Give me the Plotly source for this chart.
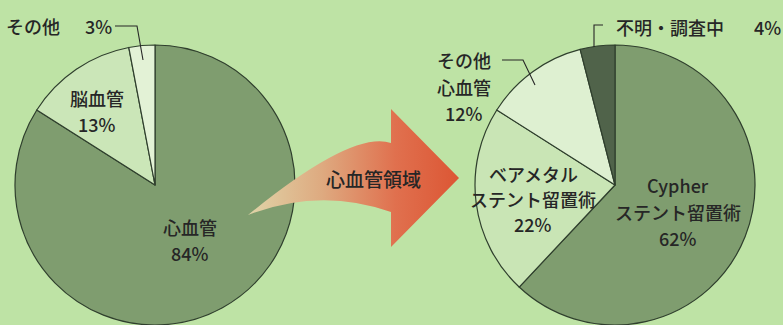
import base64
import plotly.graph_objects as go

# ---------------- data ----------------
left_labels = ["心血管", "脳血管", "その他"]
left_values = [84, 13, 3]
left_colors = ["#7f9d6f", "#cbe6b8", "#e3f2d6"]

right_labels = ["Cypher<br>ステント留置術", "ベアメタル<br>ステント留置術", "その他<br>心血管", "不明・調査中"]
right_values = [62, 22, 12, 4]
right_colors = ["#7f9d6f", "#c9e5b5", "#def0d1", "#50634a"]

arrow_label = "心血管領域"

# ---------------- layout helpers ----------------
W, H = 783, 325
BG = "#bee3a5"
FONT = "Noto Sans CJK JP, Noto Sans, sans-serif"
TXT = "#262626"
EDGE = "#2f3f2d"


def dom(cx, cy, r):
    return dict(x=[(cx - r) / W, (cx + r) / W], y=[1 - (cy + r) / H, 1 - (cy - r) / H])


fig = go.Figure()

fig.add_trace(go.Pie(
    labels=left_labels, values=left_values, sort=False, direction="clockwise", rotation=0,
    marker=dict(colors=left_colors, line=dict(color=EDGE, width=1.2)),
    textinfo="none", hoverinfo="label+percent", domain=dom(155, 185, 140), showlegend=False,
))
fig.add_trace(go.Pie(
    labels=right_labels, values=right_values, sort=False, direction="clockwise", rotation=0,
    marker=dict(colors=right_colors, line=dict(color=EDGE, width=1.2)),
    textinfo="none", hoverinfo="label+percent", domain=dom(615, 185, 140), showlegend=False,
))

# ---------------- arrow (decoration, gradient-filled SVG drawn above the pies) ----------------
arrow_svg = f"""<svg xmlns='http://www.w3.org/2000/svg' width='{W}' height='{H}' viewBox='0 0 {W} {H}'>
<defs><linearGradient id='g' gradientUnits='userSpaceOnUse' x1='248' y1='0' x2='459' y2='0'>
<stop offset='0' stop-color='rgb(224,212,168)'/>
<stop offset='0.35' stop-color='rgb(222,170,128)'/>
<stop offset='0.7' stop-color='rgb(224,112,78)'/>
<stop offset='1' stop-color='rgb(220,86,52)'/>
</linearGradient></defs>
<path d='M 248 215 Q 352 130 391 143 L 391 109 L 459 178 L 391 247 L 391 212 Q 320 187 248 215 Z' fill='url(#g)'/>
</svg>"""
src = "data:image/svg+xml;base64," + base64.b64encode(arrow_svg.encode("utf-8")).decode("ascii")

# ---------------- labels ----------------
annos = []


def lines_at(x, y0, lines, gap=26, size=18):
    for i, s in enumerate(lines):
        annos.append(dict(x=x, y=y0 + i * gap, xref="x", yref="y", text=s, showarrow=False,
                          font=dict(family=FONT, size=size, color=TXT, weight=500),
                          xanchor="center", yanchor="middle"))


lines_at(190, 227, [left_labels[0], f"{left_values[0]}%"])
lines_at(97, 98, [left_labels[1], f"{left_values[1]}%"])
lines_at(33, 26, [left_labels[2]])
lines_at(98, 26, [f"{left_values[2]}%"])

lines_at(678, 185, right_labels[0].split("<br>") + [f"{right_values[0]}%"], gap=26.5)
lines_at(533, 174, right_labels[1].split("<br>") + [f"{right_values[1]}%"], gap=25)
lines_at(464, 60, right_labels[2].split("<br>") + [f"{right_values[2]}%"], gap=26.5)
lines_at(670, 27, [right_labels[3]])
lines_at(767, 27, [f"{right_values[3]}%"])

lines_at(373, 178, [arrow_label], size=19)

shapes = [
    dict(type="path", path="M 115 26 L 137 26 L 143 60", xref="x", yref="y",
         line=dict(color=TXT, width=1.1)),
    dict(type="path", path="M 502 60 L 523 60 L 535 85", xref="x", yref="y",
         line=dict(color=TXT, width=1.1)),
    dict(type="path", path="M 594 47 L 594 25 L 603 25", xref="x", yref="y",
         line=dict(color=TXT, width=1.1)),
]

fig.update_layout(
    width=W, height=H, margin=dict(l=0, r=0, t=0, b=0),
    paper_bgcolor=BG, plot_bgcolor="rgba(0,0,0,0)",
    xaxis=dict(range=[0, W], visible=False, fixedrange=True),
    yaxis=dict(range=[H, 0], visible=False, fixedrange=True),
    annotations=annos, shapes=shapes,
    images=[dict(source=src, xref="paper", yref="paper", x=0, y=1, sizex=1, sizey=1,
                 xanchor="left", yanchor="top", sizing="stretch", layer="above")],
)

fig.write_html("out.html")
